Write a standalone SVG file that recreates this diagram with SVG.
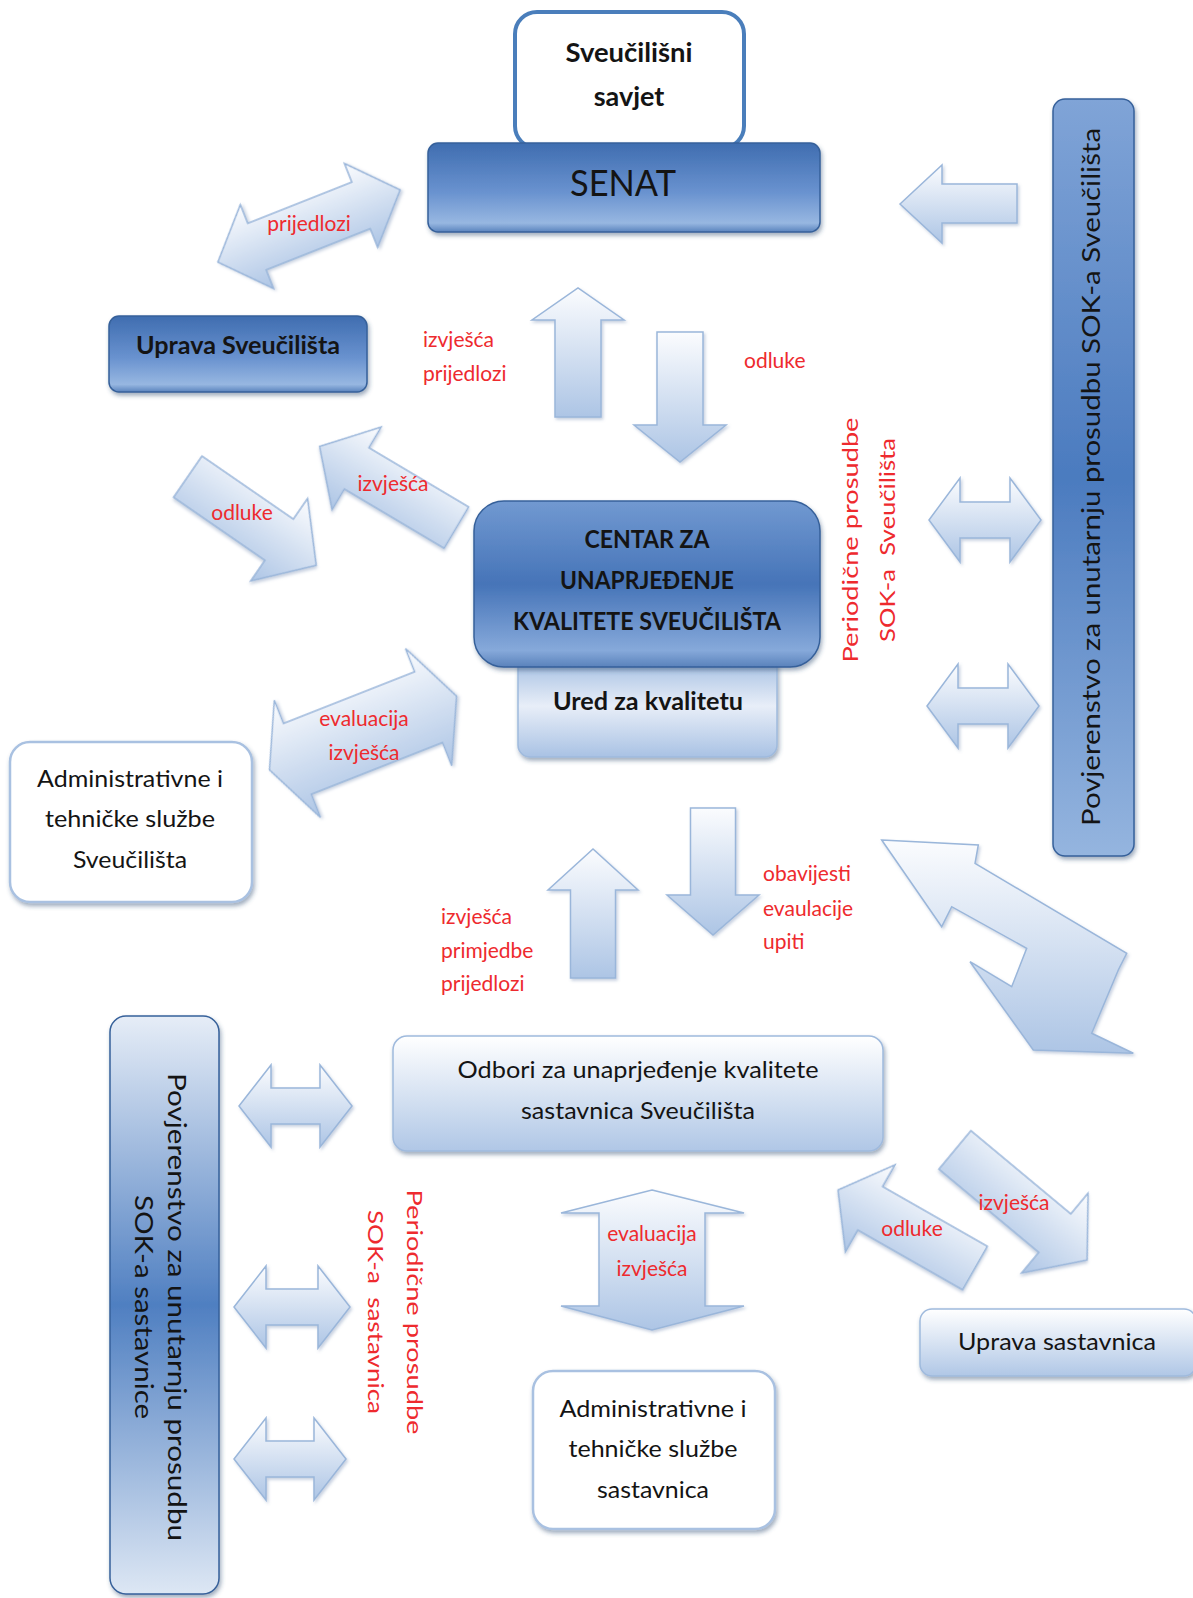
<svg xmlns="http://www.w3.org/2000/svg" width="1193" height="1598" viewBox="0 0 1193 1598">
<defs>
  <linearGradient id="gDark" x1="0" y1="0" x2="0" y2="1">
    <stop offset="0" stop-color="#3f6db0"/>
    <stop offset="0.55" stop-color="#6992cf"/>
    <stop offset="0.9" stop-color="#97b7e1"/>
    <stop offset="1" stop-color="#5a83bd"/>
  </linearGradient>
  <linearGradient id="gCentar" x1="0" y1="0" x2="0" y2="1">
    <stop offset="0" stop-color="#7199d1"/>
    <stop offset="0.5" stop-color="#4674b8"/>
    <stop offset="0.9" stop-color="#86a9da"/>
    <stop offset="1" stop-color="#5a82bb"/>
  </linearGradient>
  <linearGradient id="gRight" x1="0" y1="0" x2="0" y2="1">
    <stop offset="0" stop-color="#80a4d7"/>
    <stop offset="0.5" stop-color="#4b7bbf"/>
    <stop offset="1" stop-color="#95b5df"/>
  </linearGradient>
  <linearGradient id="gLeft" x1="0" y1="0" x2="0" y2="1">
    <stop offset="0" stop-color="#e6edf7"/>
    <stop offset="0.5" stop-color="#4f7fc1"/>
    <stop offset="1" stop-color="#dde7f4"/>
  </linearGradient>
  <linearGradient id="gLight" x1="0" y1="0" x2="0" y2="1">
    <stop offset="0" stop-color="#ffffff"/>
    <stop offset="1" stop-color="#b0c7e6"/>
  </linearGradient>
  <linearGradient id="gUred" x1="0" y1="0" x2="0" y2="1">
    <stop offset="0" stop-color="#9dbae0"/>
    <stop offset="0.5" stop-color="#e8eef8"/>
    <stop offset="1" stop-color="#a9c2e4"/>
  </linearGradient>
  <linearGradient id="gArr" x1="0" y1="0" x2="0" y2="1">
    <stop offset="0" stop-color="#fbfcfe"/>
    <stop offset="1" stop-color="#adc5e5"/>
  </linearGradient>
  <filter id="sh" x="-10%" y="-10%" width="125%" height="130%">
    <feDropShadow dx="1.5" dy="3" stdDeviation="2" flood-color="#2e4a72" flood-opacity="0.45"/>
  </filter>
  <filter id="ash" x="-10%" y="-10%" width="125%" height="130%">
    <feDropShadow dx="1.5" dy="2" stdDeviation="1.5" flood-color="#5d7aa5" flood-opacity="0.35"/>
  </filter>
</defs>
<style>
  .t{font-family:Lato,'Liberation Sans',sans-serif;fill:#141414;text-anchor:middle}
  .b{font-weight:bold}
  .lbl{font-family:Lato,'Liberation Sans',sans-serif;font-size:21px;fill:#ee2a2e}
  .c{text-anchor:middle}
  .arr{fill:url(#gArr);stroke:#9ab6da;stroke-width:1.5;filter:url(#ash)}
  .dark{stroke:#36609a;stroke-width:1.5;filter:url(#sh)}
  .lite{fill:url(#gLight);stroke:#9fbadd;stroke-width:1.5;filter:url(#sh)}
  .white{fill:#ffffff;stroke:#a9c1e1;stroke-width:2.5;filter:url(#sh)}
</style>

<rect width="1193" height="1598" fill="#ffffff"/>

<!-- Nodes -->
<g id="sveucilisni-savjet">
  <rect x="515" y="12" width="229" height="136" rx="22" fill="#ffffff" stroke="#4a7ebb" stroke-width="4"/>
  <text class="t b" x="629" y="62" font-size="27" textLength="127" lengthAdjust="spacingAndGlyphs">Sveučilišni</text>
  <text class="t b" x="629" y="106" font-size="27">savjet</text>
</g>

<g id="senat">
  <rect class="dark" x="428" y="143" width="392" height="89" rx="10" fill="url(#gDark)"/>
  <text class="t" x="623" y="196" font-size="37" fill="#1b2333" textLength="106" lengthAdjust="spacingAndGlyphs">SENAT</text>
</g>

<g id="uprava-sveucilista">
  <rect class="dark" x="109" y="316" width="258" height="76" rx="10" fill="url(#gDark)"/>
  <text class="t b" x="238" y="354" font-size="24" textLength="204" lengthAdjust="spacingAndGlyphs">Uprava Sveučilišta</text>
</g>

<g id="ured-za-kvalitetu">
  <rect class="lite" x="518" y="655" width="259" height="102" rx="12" fill="url(#gUred)" style="fill:url(#gUred)"/>
  <text class="t b" x="648" y="710" font-size="24" textLength="190" lengthAdjust="spacingAndGlyphs">Ured za kvalitetu</text>
</g>

<g id="centar">
  <rect class="dark" x="474" y="501" width="346" height="166" rx="30" fill="url(#gCentar)"/>
  <text class="t b" x="647" y="548" font-size="25" textLength="125" lengthAdjust="spacingAndGlyphs">CENTAR ZA</text>
  <text class="t b" x="647" y="589" font-size="25" textLength="174" lengthAdjust="spacingAndGlyphs">UNAPRJEĐENJE</text>
  <text class="t b" x="647" y="630" font-size="25" textLength="268" lengthAdjust="spacingAndGlyphs">KVALITETE SVEUČILIŠTA</text>
</g>

<g id="admin-sveucilista">
  <rect class="white" x="10" y="742" width="242" height="160" rx="20"/>
  <text class="t" x="130" y="787" font-size="24" textLength="186" lengthAdjust="spacingAndGlyphs">Administrativne i</text>
  <text class="t" x="130" y="827" font-size="24" textLength="170" lengthAdjust="spacingAndGlyphs">tehničke službe</text>
  <text class="t" x="130" y="868" font-size="24" textLength="114" lengthAdjust="spacingAndGlyphs">Sveučilišta</text>
</g>

<g id="povjerenstvo-sveucilista">
  <rect class="dark" x="1053" y="99" width="81" height="757" rx="12" fill="url(#gRight)"/>
  <text class="t" transform="translate(1100,477) rotate(-90)" x="0" y="0" font-size="25" textLength="698" lengthAdjust="spacingAndGlyphs">Povjerenstvo za unutarnju prosudbu SOK-a Sveučilišta</text>
</g>

<g id="odbori">
  <rect class="lite" x="393" y="1036" width="490" height="115" rx="14"/>
  <text class="t" x="638" y="1078" font-size="24" textLength="361" lengthAdjust="spacingAndGlyphs">Odbori za unaprjeđenje kvalitete</text>
  <text class="t" x="638" y="1119" font-size="24" textLength="234" lengthAdjust="spacingAndGlyphs">sastavnica Sveučilišta</text>
</g>

<g id="povjerenstvo-sastavnice">
  <rect class="dark" x="110" y="1016" width="109" height="578" rx="16" fill="url(#gLeft)"/>
  <g transform="translate(168,1307) rotate(90)">
    <text class="t" x="0" y="0" font-size="25" textLength="468" lengthAdjust="spacingAndGlyphs">Povjerenstvo za unutarnju prosudbu</text>
    <text class="t" x="0" y="33" font-size="25" textLength="224" lengthAdjust="spacingAndGlyphs">SOK-a sastavnice</text>
  </g>
</g>

<g id="uprava-sastavnica">
  <rect class="lite" x="920" y="1309" width="276" height="67" rx="12"/>
  <text class="t" x="1057" y="1350" font-size="24" textLength="198" lengthAdjust="spacingAndGlyphs">Uprava sastavnica</text>
</g>

<g id="admin-sastavnica">
  <rect class="white" x="533" y="1371" width="242" height="158" rx="20"/>
  <text class="t" x="653" y="1417" font-size="24" textLength="187" lengthAdjust="spacingAndGlyphs">Administrativne i</text>
  <text class="t" x="653" y="1457" font-size="24" textLength="169" lengthAdjust="spacingAndGlyphs">tehničke službe</text>
  <text class="t" x="653" y="1498" font-size="24" textLength="112" lengthAdjust="spacingAndGlyphs">sastavnica</text>
</g>

<!-- Connectors -->
<g id="connectors">
  <!-- prijedlozi: Uprava <-> Senat -->
  <polygon class="arr" transform="translate(309,226) rotate(-21.6)" points="-98,0 -56,-45 -56,-25 56,-25 56,-45 98,0 56,45 56,25 -56,25 -56,45"/>
  <text class="lbl c" x="309" y="231">prijedlozi</text>

  <!-- up: Centar -> Senat -->
  <polygon class="arr" points="555,417 555,320 532,320 578,288 624,320 601,320 601,417"/>
  <text class="lbl" x="423" y="347">izvješća</text>
  <text class="lbl" x="423" y="381">prijedlozi</text>

  <!-- down: Senat -> Centar -->
  <polygon class="arr" points="657,332 703,332 703,425 726,425 680,462 634,425 657,425"/>
  <text class="lbl" x="744" y="368">odluke</text>

  <!-- left: Povjerenstvo -> Senat -->
  <polygon class="arr" points="900,204 942,165 942,184 1017,184 1017,223 942,223 942,243"/>

  <!-- odluke: Uprava -> Centar -->
  <polygon class="arr" transform="translate(252,521) rotate(34.6)" points="-78,-25 33,-25 33,-50 78,0 33,50 33,25 -78,25"/>
  <text class="lbl c" x="242" y="520">odluke</text>

  <!-- izvješća: Centar -> Uprava -->
  <polygon class="arr" transform="translate(388,487) rotate(30.7)" points="79.5,-24 -36.5,-24 -36.5,-48 -79.5,0 -36.5,48 -36.5,24 79.5,24"/>
  <text class="lbl c" x="393" y="491">izvješća</text>

  <!-- evaluacija izvješća: Admin <-> Ured -->
  <polygon class="arr" transform="translate(363,733) rotate(-21.5)" points="-100.5,0 -70.5,-63 -70.5,-38 70.5,-38 70.5,-63 100.5,0 70.5,63 70.5,38 -70.5,38 -70.5,63"/>
  <text class="lbl c" x="364" y="726">evaluacija</text>
  <text class="lbl c" x="364" y="760">izvješća</text>

  <!-- right double arrows: Centar <-> Povjerenstvo -->
  <polygon class="arr" points="929,520 960,478 960,502 1010,502 1010,478 1041,520 1010,562 1010,538 960,538 960,562"/>
  <polygon class="arr" points="927,706 958,664 958,688 1008,688 1008,664 1039,706 1008,748 1008,724 958,724 958,748"/>
  <text class="lbl c" transform="translate(858,540) rotate(-90)" x="0" y="0" font-size="26" textLength="245" lengthAdjust="spacingAndGlyphs">Periodične prosudbe</text>
  <text class="lbl c" transform="translate(895,540) rotate(-90)" x="0" y="0" font-size="26" xml:space="preserve" textLength="204" lengthAdjust="spacingAndGlyphs">SOK-a  Sveučilišta</text>

  <!-- down: Centar -> Odbori -->
  <polygon class="arr" points="690.5,808 735.5,808 735.5,895 759,895 713,935 667,895 690.5,895"/>
  <text class="lbl" x="763" y="881">obavijesti</text>
  <text class="lbl" x="763" y="916">evaulacije</text>
  <text class="lbl" x="763" y="949">upiti</text>

  <!-- up: Odbori -> Centar -->
  <polygon class="arr" points="570.5,978 570.5,890 548,890 593,849 638,890 615.5,890 615.5,978"/>
  <text class="lbl" x="441" y="924">izvješća</text>
  <text class="lbl" x="441" y="958">primjedbe</text>
  <text class="lbl" x="441" y="991">prijedlozi</text>

  <!-- big bent double arrow: Povjerenstvo Sveučilišta <-> Odbori -->
  <polygon class="arr" points="881.7,840 978.3,845 975,863.3 1126.7,953.3 1118.3,970 1091.7,1033.3 1133.3,1053.3 1033.3,1050 970,961.7 1011.7,986.7 1026.7,948.3 951.7,906.7 941.7,926.7"/>

  <!-- left double arrows: Povjerenstvo sastavnice <-> -->
  <polygon class="arr" points="239,1106 271,1065 271,1088 320,1088 320,1065 352,1106 320,1147 320,1124 271,1124 271,1147"/>
  <polygon class="arr" points="234,1307 266,1266 266,1289 318,1289 318,1266 350,1307 318,1348 318,1325 266,1325 266,1348"/>
  <polygon class="arr" points="234,1459 266,1418 266,1441 314,1441 314,1418 346,1459 314,1500 314,1477 266,1477 266,1500"/>
  <text class="lbl c" transform="translate(407,1312) rotate(90)" x="0" y="0" font-size="26" textLength="245" lengthAdjust="spacingAndGlyphs">Periodične prosudbe</text>
  <text class="lbl c" transform="translate(368,1312) rotate(90)" x="0" y="0" font-size="26" xml:space="preserve" textLength="204" lengthAdjust="spacingAndGlyphs">SOK-a  sastavnica</text>

  <!-- vertical double: Odbori <-> Admin sastavnica -->
  <polygon class="arr" points="652,1190 744,1213 705,1213 705,1306 744,1306 652,1330 561,1306 599,1306 599,1213 561,1213"/>
  <text class="lbl c" x="652" y="1241">evaluacija</text>
  <text class="lbl c" x="652" y="1276">izvješća</text>

  <!-- odluke: Uprava sastavnica -> Odbori -->
  <polygon class="arr" transform="translate(906.5,1229) rotate(29.7)" points="78.8,-25 -41.8,-25 -41.8,-50 -78.8,0 -41.8,50 -41.8,25 78.8,25"/>
  <text class="lbl c" x="912" y="1236">odluke</text>

  <!-- izvješća: Odbori -> Uprava sastavnica -->
  <polygon class="arr" transform="translate(1021,1205) rotate(39.8)" points="-86,-25 44,-25 44,-52 86,0 44,52 44,25 -86,25"/>
  <text class="lbl c" x="1014" y="1210">izvješća</text>
</g>
</svg>
